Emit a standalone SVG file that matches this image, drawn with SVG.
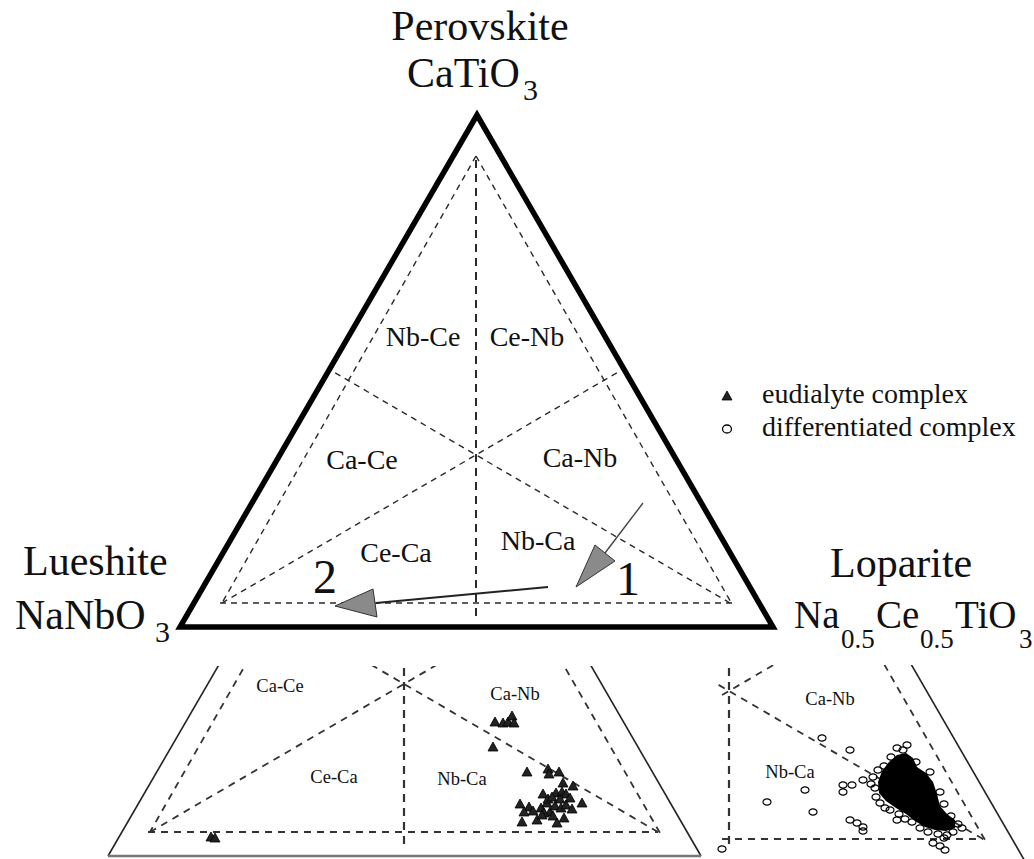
<svg xmlns="http://www.w3.org/2000/svg" xmlns:xlink="http://www.w3.org/1999/xlink" width="1034" height="859" viewBox="0 0 1034 859">
<style>
.t{font-family:"Liberation Serif","Times New Roman",serif;fill:#111}
.big{font-size:42px}
.sub{font-size:30px}
.fm{font-size:39px}
.fs{font-size:27px}
.reg{font-size:28px;text-anchor:middle}
.sm{font-size:18.5px;text-anchor:middle}
.num{font-size:48px;text-anchor:middle}
.leg{font-size:28px}
.d{stroke:#2a2a2a;stroke-width:1.4;stroke-dasharray:6 5;fill:none}
.dv{stroke:#2a2a2a;stroke-width:2;stroke-dasharray:8 6;fill:none}
.pd{stroke:#333;stroke-width:1.8;stroke-dasharray:7 6;fill:none}
.pv{stroke:#333;stroke-width:2.2;stroke-dasharray:8 6;fill:none}
.ps{stroke:#222;stroke-width:1.6;fill:none}
.ah{fill:#8a8a8a;stroke:#333;stroke-width:1}
</style>
<defs>
<clipPath id="clipL"><rect x="100" y="666" width="610" height="193"/></clipPath>
<clipPath id="clipR"><rect x="718" y="665" width="316" height="194"/></clipPath>
<polygon id="tri" points="0,-5 5,4 -5,4" fill="#222" stroke="#000" stroke-width="0.8"/>
<ellipse id="ci" cx="0" cy="0" rx="4" ry="3.2" fill="none" stroke="#000" stroke-width="1.2"/>
</defs>

<g id="main-triangle">
<polygon points="477,115 180,627 773,627" fill="none" stroke="#000" stroke-width="5.5" stroke-linejoin="miter"/>
<line class="d" x1="476" y1="156" x2="222" y2="603"/>
<line class="d" x1="476" y1="156" x2="732" y2="604"/>
<line class="d" x1="220" y1="603" x2="732" y2="603"/>
<line class="d" x1="222" y1="603" x2="620" y2="371"/>
<line class="d" x1="730" y1="603" x2="332" y2="371"/>
<line class="dv" x1="476" y1="160" x2="476" y2="620"/>
</g>

<g id="vertex-labels">
<text class="t big" x="480" y="40" text-anchor="middle">Perovskite</text>
<text class="t big" x="407" y="87">CaTiO</text><text class="t sub" x="523" y="100">3</text>
<text class="t big" x="23" y="575">Lueshite</text>
<text class="t big" x="15" y="629">NaNbO</text><text class="t sub" x="155" y="642">3</text>
<text class="t big" x="830" y="577">Loparite</text>
<text class="t fm" x="794" y="628">Na</text>
<text class="t fs" x="841" y="648">0.5</text>
<text class="t fm" x="876" y="628">Ce</text>
<text class="t fs" x="920" y="648">0.5</text>
<text class="t fm" x="955" y="628">TiO</text>
<text class="t fs" x="1019" y="648">3</text>
</g>

<g id="region-labels">
<text class="t reg" x="423" y="346">Nb-Ce</text>
<text class="t reg" x="527" y="346">Ce-Nb</text>
<text class="t reg" x="362" y="469">Ca-Ce</text>
<text class="t reg" x="580" y="467">Ca-Nb</text>
<text class="t reg" x="396" y="562">Ce-Ca</text>
<text class="t reg" x="538" y="550">Nb-Ca</text>
<text class="t num" x="628" y="595">1</text>
<text class="t num" x="325" y="593">2</text>
</g>

<g id="connectors">
<line x1="643" y1="503" x2="605" y2="553" stroke="#444" stroke-width="1.4"/>
<polygon class="ah" points="595,545 615,561 576,587"/>
<line x1="548" y1="587" x2="376" y2="603" stroke="#222" stroke-width="2"/>
<polygon class="ah" points="373,589 377,617 335,606"/>
</g>

<g id="legend">
<use xlink:href="#tri" x="727" y="396"/>
<text class="t leg" x="762" y="403">eudialyte complex</text>
<ellipse cx="727" cy="429" rx="4.5" ry="4" fill="#fff" stroke="#000" stroke-width="1.3"/>
<text class="t leg" x="762" y="436">differentiated complex</text>
</g>

<g id="panel-left">
<g clip-path="url(#clipL)">
<line class="ps" x1="405" y1="344" x2="108" y2="856"/>
<line class="ps" x1="405" y1="344" x2="701" y2="856"/>
<line class="pd" x1="404" y1="387" x2="150" y2="832"/>
<line class="pd" x1="404" y1="387" x2="660" y2="833"/>
<line class="pd" x1="148" y1="832" x2="658" y2="832"/>
<line class="pd" x1="150" y1="832" x2="548" y2="600"/>
<line class="pd" x1="658" y1="832" x2="260" y2="600"/>
<line class="pv" x1="404" y1="640" x2="404" y2="849"/>
</g>
<line x1="108" y1="856" x2="701" y2="856" stroke="#777" stroke-width="2.5"/>
<text class="t sm" x="280" y="692">Ca-Ce</text>
<text class="t sm" x="334" y="783">Ce-Ca</text>
<text class="t sm" x="515" y="700">Ca-Nb</text>
<text class="t sm" x="462" y="785">Nb-Ca</text>
<g id="eudialyte-points">
<use xlink:href="#tri" x="495" y="722"/><use xlink:href="#tri" x="503" y="723"/><use xlink:href="#tri" x="508" y="722"/><use xlink:href="#tri" x="512" y="716"/><use xlink:href="#tri" x="514" y="723"/>
<use xlink:href="#tri" x="493" y="747"/><use xlink:href="#tri" x="527" y="772"/>
<use xlink:href="#tri" x="548" y="769"/><use xlink:href="#tri" x="549" y="774"/><use xlink:href="#tri" x="559" y="772"/>
<use xlink:href="#tri" x="563" y="783"/><use xlink:href="#tri" x="573" y="786"/>
<use xlink:href="#tri" x="543" y="794"/><use xlink:href="#tri" x="556" y="793"/><use xlink:href="#tri" x="562" y="792"/><use xlink:href="#tri" x="566" y="794"/><use xlink:href="#tri" x="570" y="798"/><use xlink:href="#tri" x="582" y="803"/>
<use xlink:href="#tri" x="520" y="804"/><use xlink:href="#tri" x="529" y="807"/><use xlink:href="#tri" x="524" y="812"/><use xlink:href="#tri" x="533" y="811"/><use xlink:href="#tri" x="541" y="808"/><use xlink:href="#tri" x="547" y="803"/>
<use xlink:href="#tri" x="550" y="812"/><use xlink:href="#tri" x="555" y="806"/><use xlink:href="#tri" x="561" y="808"/><use xlink:href="#tri" x="566" y="805"/><use xlink:href="#tri" x="572" y="809"/><use xlink:href="#tri" x="553" y="816"/>
<use xlink:href="#tri" x="544" y="813"/><use xlink:href="#tri" x="537" y="820"/><use xlink:href="#tri" x="522" y="822"/><use xlink:href="#tri" x="557" y="823"/><use xlink:href="#tri" x="564" y="818"/><use xlink:href="#tri" x="548" y="799"/>
<use xlink:href="#tri" x="560" y="799"/><use xlink:href="#tri" x="552" y="797"/><use xlink:href="#tri" x="542" y="815"/>
<use xlink:href="#tri" x="211" y="837"/><use xlink:href="#tri" x="215" y="838"/>
</g>
</g>

<g id="panel-right">
<g clip-path="url(#clipR)">
<line class="ps" x1="730" y1="351" x2="1026" y2="863"/>
<line class="pd" x1="729" y1="394" x2="985" y2="840"/>
<line class="pd" x1="475" y1="839" x2="983" y2="839"/>
<line class="pd" x1="475" y1="839" x2="873" y2="607"/>
<line class="pd" x1="983" y1="839" x2="585" y2="607"/>
<line class="pv" x1="729" y1="640" x2="729" y2="846"/>
</g>
<text class="t sm" x="830" y="705">Ca-Nb</text>
<text class="t sm" x="790" y="778">Nb-Ca</text>
<g id="differentiated-points">
<polygon points="878,782 882,771 889,762 897,755 906,753 913,758 917,767 926,773 933,782 937,794 940,806 947,814 955,820 955,828 946,831 935,830 925,827 915,821 906,814 896,808 886,801 879,793" fill="#000"/>
<use xlink:href="#ci" x="822" y="738"/><use xlink:href="#ci" x="850" y="750"/><use xlink:href="#ci" x="897" y="748"/><use xlink:href="#ci" x="863" y="780"/>
<use xlink:href="#ci" x="843" y="785"/><use xlink:href="#ci" x="852" y="785"/><use xlink:href="#ci" x="843" y="792"/><use xlink:href="#ci" x="805" y="790"/>
<use xlink:href="#ci" x="767" y="802"/><use xlink:href="#ci" x="813" y="812"/><use xlink:href="#ci" x="850" y="820"/><use xlink:href="#ci" x="857" y="823"/>
<use xlink:href="#ci" x="863" y="827"/><use xlink:href="#ci" x="863" y="831"/><use xlink:href="#ci" x="897" y="820"/><use xlink:href="#ci" x="912" y="822"/>
<use xlink:href="#ci" x="722" y="849"/><use xlink:href="#ci" x="933" y="843"/><use xlink:href="#ci" x="940" y="846"/><use xlink:href="#ci" x="945" y="850"/>
<use xlink:href="#ci" x="947" y="835"/><use xlink:href="#ci" x="953" y="832"/><use xlink:href="#ci" x="958" y="824"/><use xlink:href="#ci" x="951" y="816"/>
<use xlink:href="#ci" x="937" y="822"/><use xlink:href="#ci" x="873" y="777"/><use xlink:href="#ci" x="876" y="797"/><use xlink:href="#ci" x="880" y="803"/>
<use xlink:href="#ci" x="885" y="808"/><use xlink:href="#ci" x="903" y="750"/><use xlink:href="#ci" x="891" y="757"/><use xlink:href="#ci" x="916" y="762"/>
<use xlink:href="#ci" x="930" y="772"/><use xlink:href="#ci" x="940" y="792"/><use xlink:href="#ci" x="875" y="788"/><use xlink:href="#ci" x="890" y="810"/>
<use xlink:href="#ci" x="899" y="814"/><use xlink:href="#ci" x="905" y="819"/><use xlink:href="#ci" x="920" y="828"/><use xlink:href="#ci" x="928" y="832"/>
<use xlink:href="#ci" x="962" y="828"/><use xlink:href="#ci" x="944" y="838"/><use xlink:href="#ci" x="938" y="834"/><use xlink:href="#ci" x="907" y="745"/>
<use xlink:href="#ci" x="884" y="766"/><use xlink:href="#ci" x="878" y="770"/><use xlink:href="#ci" x="871" y="784"/><use xlink:href="#ci" x="944" y="804"/>
<use xlink:href="#ci" x="893" y="792"/><use xlink:href="#ci" x="918" y="790"/><use xlink:href="#ci" x="908" y="778"/><use xlink:href="#ci" x="925" y="810"/>
</g>
</g>
</svg>
